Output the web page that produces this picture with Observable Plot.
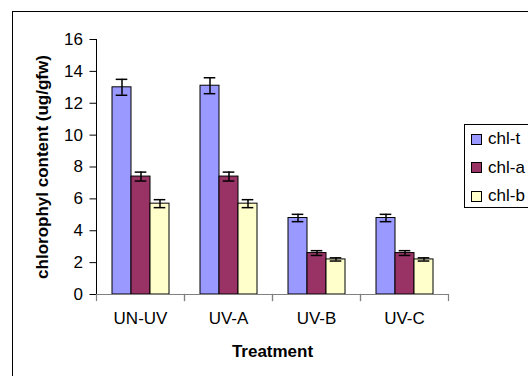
<!DOCTYPE html>
<html>
<head>
<meta charset="utf-8">
<script src="https://cdn.jsdelivr.net/npm/d3@7"></script>
<script src="https://cdn.jsdelivr.net/npm/@observablehq/plot@0.6"></script>
<style>
  html, body { margin: 0; padding: 0; background: #fff; }
  #wrap { position: relative; width: 528px; height: 376px; overflow: hidden; background: #fff; font-family: Arial, "Liberation Sans", sans-serif; }
  #border { position: absolute; left: 12px; top: 11px; width: 700px; height: 700px; border: 1px solid #000; box-sizing: border-box; }
  #chart { position: absolute; left: 0; top: 0; }
  #legend { position: absolute; left: 464px; top: 124px; width: 120px; height: 84px; border: 1px solid #000; box-sizing: border-box; background: #fff; }
  .item { position: absolute; left: 6px; height: 20px; display: flex; align-items: center; font-size: 17px; color: #000; }
  .sw { width: 9px; height: 9px; border: 1px solid #000; margin-right: 6px; }
  g[aria-label="y-axis label"] text, g[aria-label="fx-axis label"] text { font-weight: bold; font-size: 17px; }
</style>
</head>
<body>
<div id="wrap">
  <div id="border"></div>
  <div id="chart"></div>
  <div id="legend"></div>
</div>
<script>
const treatments = ["UN-UV", "UV-A", "UV-B", "UV-C"];
const series = ["chl-t", "chl-a", "chl-b"];
const chlT = [13.0, 13.1, 4.8, 4.8];
const chlA = [7.4, 7.4, 2.6, 2.6];
const chlB = [5.7, 5.7, 2.2, 2.2];
const errT = [0.5, 0.5, 0.23, 0.23];
const errA = [0.28, 0.28, 0.15, 0.15];
const errB = [0.25, 0.25, 0.1, 0.1];
const colors = ["#9999ff", "#993366", "#ffffcc"];
const yTicks = [0, 2, 4, 6, 8, 10, 12, 14, 16];
const yLabel = "chlorophyl content (ug/gfw)";
const xLabel = "Treatment";

const values = [chlT, chlA, chlB];
const errors = [errT, errA, errB];
const data = [];
treatments.forEach((t, i) => {
  series.forEach((s, j) => {
    data.push({treatment: t, series: s, value: values[j][i], err: errors[j][i]});
  });
});

const axisGray = "#808080";
const plot = Plot.plot({
  width: 528,
  height: 376,
  marginLeft: 95,
  marginRight: 80,
  marginTop: 39,
  marginBottom: 82,
  style: {fontFamily: "Arial, 'Liberation Sans', sans-serif", fontSize: "17px", background: "transparent", color: "#000"},
  fx: {domain: treatments, padding: 0, label: xLabel, labelAnchor: "center", tickSize: 0, tickPadding: 17, labelOffset: 62},
  x: {domain: series, paddingInner: 0, paddingOuter: 0.72, axis: null},
  y: {domain: [0, 16], ticks: yTicks, tickSize: 6.5, tickPadding: 7, line: true, label: yLabel, labelAnchor: "center", labelArrow: "none", labelOffset: 61},
  color: {domain: series, range: colors},
  marks: [
    Plot.barY(data, {fx: "treatment", x: "series", y: "value", fill: "series", stroke: "#000", strokeWidth: 1}),
    Plot.ruleX(data, {fx: "treatment", x: "series", y1: d => d.value - d.err, y2: d => d.value + d.err, stroke: "#000", strokeWidth: 1.5}),
    Plot.tickY(data, {fx: "treatment", x: "series", y: d => d.value - d.err, insetLeft: 3.7, insetRight: 3.7, stroke: "#000", strokeWidth: 1.5}),
    Plot.tickY(data, {fx: "treatment", x: "series", y: d => d.value + d.err, insetLeft: 3.7, insetRight: 3.7, stroke: "#000", strokeWidth: 1.5}),
    Plot.ruleY([0], {stroke: axisGray, strokeWidth: 1.2}),
    Plot.frame({anchor: "left", insetTop: 255, insetBottom: -6, stroke: axisGray, strokeWidth: 1.2}),
    Plot.frame({anchor: "right", insetTop: 255, insetBottom: -6, stroke: axisGray, strokeWidth: 1.2})
  ]
});
document.getElementById("chart").appendChild(plot);

const svg = d3.select(plot);
svg.selectAll('g[aria-label="y-axis tick"], g[aria-label="y-axis line"]').attr("stroke", axisGray);

const legend = document.getElementById("legend");
series.forEach((s, i) => {
  const item = document.createElement("div");
  item.className = "item";
  item.style.top = (4 + i * 28.5) + "px";
  const sw = document.createElement("div");
  sw.className = "sw";
  sw.style.background = colors[i];
  const tx = document.createElement("span");
  tx.textContent = s;
  item.appendChild(sw);
  item.appendChild(tx);
  legend.appendChild(item);
});
</script>
</body>
</html>
